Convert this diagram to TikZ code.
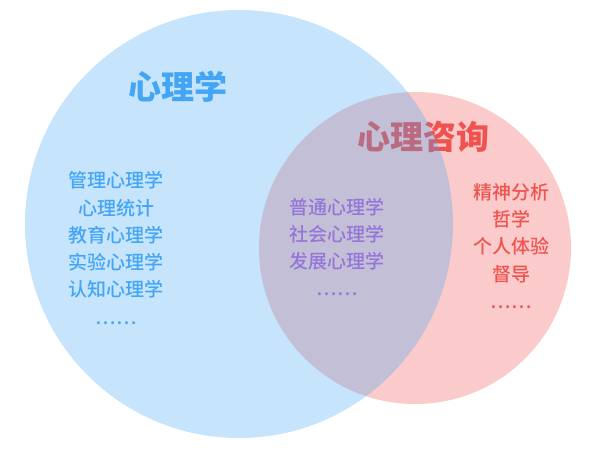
\documentclass[tikz,border=0pt]{standalone}
\usepackage{fontspec}
\setmainfont{Noto Sans CJK SC}
\newfontfamily\cjkmedium{Noto Sans CJK SC}[UprightFont={* Medium}]
\definecolor{psyblue}{HTML}{42A5F5}
\definecolor{cslred}{HTML}{EF5350}
\definecolor{mixpurple}{HTML}{9575D8}
\begin{document}
\begin{tikzpicture}[x=1pt,y=-1pt,
  title/.style={font=\fontsize{33}{38}\selectfont\bfseries},
  itemlist/.style={align=center, inner sep=0pt, font=\fontsize{19}{27.3}\cjkmedium}]
\useasboundingbox (0,0) rectangle (594,460);
% counselling circle goes below, psychology circle over it
\fill[cslred, opacity=0.3] (415,248) circle[radius=156pt];
\node[title, text=cslred] (counsel) at (423,137) {心理咨询};
\fill[psyblue, opacity=0.3] (239,224) circle[radius=214pt];
\node[title, text=psyblue] (psych) at (178,87) {心理学};
\node[itemlist, text=psyblue] (psyonly) at (116,248) {管理心理学\\心理统计\\教育心理学\\实验心理学\\认知心理学\\……};
\node[itemlist, text=mixpurple] (both) at (337,247) {普通心理学\\社会心理学\\发展心理学\\……};
\node[itemlist, text=cslred] (cslonly) at (511,246) {精神分析\\哲学\\个人体验\\督导\\……};
\end{tikzpicture}
\end{document}
